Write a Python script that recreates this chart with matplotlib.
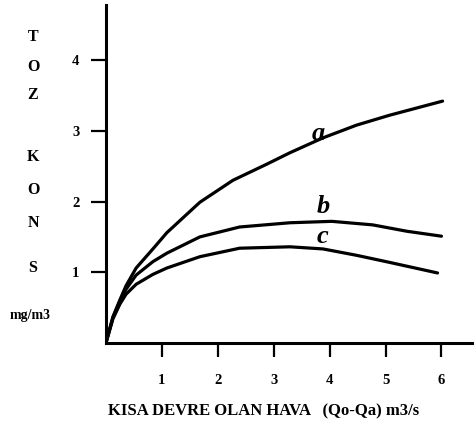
import matplotlib
matplotlib.use('Agg')
import matplotlib.pyplot as plt
import numpy as np

# curve values (x in m3/s, y in mg/m3)
x_a = [0, 0.125, 0.25, 0.36, 0.54, 0.84, 1.09, 1.68, 2.27, 2.88, 3.29, 3.88, 4.48, 5.07, 6.02]
y_a = [0, 0.37, 0.61, 0.81, 1.06, 1.33, 1.56, 1.99, 2.30, 2.53, 2.69, 2.90, 3.08, 3.22, 3.42]

x_b = [0, 0.125, 0.25, 0.36, 0.54, 0.84, 1.09, 1.68, 2.39, 3.29, 4.04, 4.77, 5.38, 6.0]
y_b = [0, 0.36, 0.59, 0.76, 0.96, 1.15, 1.27, 1.50, 1.64, 1.70, 1.72, 1.67, 1.58, 1.51]

x_c = [0, 0.125, 0.25, 0.36, 0.54, 0.84, 1.09, 1.68, 2.39, 3.29, 3.88, 4.48, 5.07, 5.93]
y_c = [0, 0.34, 0.55, 0.69, 0.83, 0.97, 1.06, 1.22, 1.34, 1.36, 1.33, 1.24, 1.14, 0.99]

x_ticks = [1, 2, 3, 4, 5, 6]
y_ticks = [1, 2, 3, 4]
y_title = ['T', 'O', 'Z', '', 'K', 'O', 'N', 'S']

plt.rcParams['font.family'] = ['Liberation Serif', 'DejaVu Serif']
plt.rcParams['font.weight'] = 'bold'

fig = plt.figure(figsize=(4.75, 4.29), dpi=100)
ax = fig.add_axes([0.223, 0.2005, 0.77, 0.788])

for xs, ys in [(x_a, y_a), (x_b, y_b), (x_c, y_c)]:
    ax.plot(xs, ys, color='black', lw=2.3, solid_capstyle='round', solid_joinstyle='round')

ax.set_xlim(0, 6.54)
ax.set_ylim(0, 4.78)

for s in ['top', 'right']:
    ax.spines[s].set_visible(False)
for s in ['left', 'bottom']:
    ax.spines[s].set_linewidth(2.2)

ax.set_xticks(x_ticks)
ax.set_xticklabels([str(t) for t in x_ticks])
ax.set_yticks(y_ticks)
ax.set_yticklabels([str(t) for t in y_ticks])
ax.tick_params(axis='x', length=10, width=1.6, pad=12, labelsize=10.5)
ax.tick_params(axis='y', length=11, width=1.6, pad=8, labelsize=10.5)

# curve names
for name, cx, cy in [('a', 3.79, 2.87), ('b', 3.89, 1.84), ('c', 3.88, 1.41)]:
    ax.text(cx, cy, name, fontsize=19, style='italic', fontweight='bold',
            ha='center', va='baseline')

# stacked vertical axis title
y_pos = [37, 67, 95, 126, 157, 190, 223, 268]
for ch, yp in zip(y_title, y_pos):
    fig.text(33 / 475, 1 - yp / 429, ch, fontsize=11.5, ha='center', va='center')
fig.text(30 / 475, 1 - 315 / 429, 'mg/m3', fontsize=10, ha='center', va='center')

fig.text(108 / 475, 1 - 411 / 429, 'KISA DEVRE OLAN HAVA   (Qo-Qa) m3/s',
         fontsize=12, ha='left', va='center')

fig.savefig('out.png', dpi=100)
